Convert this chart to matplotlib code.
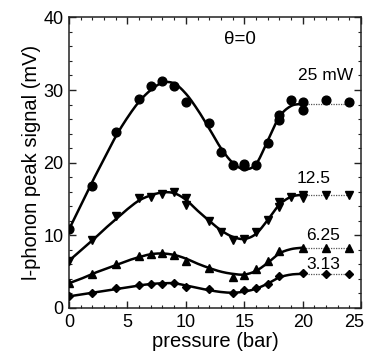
"""
l-phonon peak signal vs pressure at theta=0, for four heater powers.
Markers are the measured points, solid lines the smooth fits.
"""

import numpy as np
import matplotlib
matplotlib.use("Agg")
import matplotlib.pyplot as plt
from matplotlib.ticker import MultipleLocator

plt.rcParams["font.family"] = ["Liberation Sans", "DejaVu Sans"]

# measured points (bar, mV)
P_25 = [0, 2, 4, 6, 7, 8, 9, 10, 12, 13, 14, 15, 15, 16, 17, 18, 18, 19, 20, 20, 22, 24]
S_25 = [10.9, 16.8, 24.2, 28.8, 30.6, 31.3, 30.6, 28.3, 25.5, 21.5, 19.7, 19.8, 19.5,
        19.7, 22.7, 25.9, 26.6, 28.6, 28.3, 27.2, 28.6, 28.3]

P_125 = [0, 2, 4, 6, 7, 8, 9, 10, 10, 12, 13, 14, 15, 16, 17, 18, 18, 19, 20, 20, 22, 24]
S_125 = [6.5, 9.3, 12.6, 15.1, 15.3, 15.7, 15.9, 15.1, 14.2, 12.0, 10.4, 9.4, 9.5,
         10.4, 12.1, 14.6, 13.9, 15.3, 15.6, 15.1, 15.6, 15.6]

P_625 = [0, 2, 4, 6, 7, 8, 9, 10, 12, 14, 15, 16, 17, 18, 20, 22, 24]
S_625 = [3.5, 4.7, 6.0, 7.15, 7.4, 7.6, 7.3, 6.45, 5.45, 4.3, 4.6, 5.3, 6.4, 7.9, 8.3, 8.3, 8.3]

P_313 = [0, 2, 4, 6, 7, 8, 9, 10, 12, 14, 15, 16, 17, 18, 20, 22, 24]
S_313 = [1.65, 2.1, 2.7, 3.15, 3.25, 3.3, 3.5, 2.95, 2.55, 2.1, 2.5, 2.8, 3.3, 4.4, 4.75, 4.65, 4.65]

# fitted curves at whole-bar knots 0..20
FIT_P = list(range(0, 21))
FIT_25 = [10.8, 14.1, 17.4, 20.5, 23.6, 26.2, 28.4, 30.0, 31.0, 30.9, 29.5, 27.3, 24.7,
          22.0, 20.0, 19.1, 19.8, 23.0, 26.3, 27.8, 28.1]
FIT_125 = [6.5, 7.9, 9.3, 10.8, 12.2, 13.6, 14.8, 15.5, 15.9, 15.8, 14.9, 13.4, 12.0,
           10.7, 9.8, 9.5, 10.2, 12.1, 14.2, 15.3, 15.6]
FIT_625 = [3.4, 4.0, 4.7, 5.3, 5.9, 6.5, 7.0, 7.4, 7.5, 7.3, 6.8, 6.1, 5.5, 5.0, 4.7,
           4.6, 5.1, 6.2, 7.5, 8.1, 8.3]
FIT_313 = [1.6, 1.85, 2.1, 2.35, 2.6, 2.85, 3.1, 3.3, 3.4, 3.4, 3.1, 2.75, 2.45, 2.2,
           2.1, 2.25, 2.65, 3.35, 4.2, 4.6, 4.7]

PLATEAU_P = [20, 24]   # dotted continuation of each fit

LABELS = ["25 mW", "12.5", "6.25", "3.13"]
X_TICKS = [0, 5, 10, 15, 20, 25]


def _smooth(xk, yk, n=400):
    """Cubic Hermite through the knots (Catmull-Rom slopes)."""
    xk = np.asarray(xk, float)
    yk = np.asarray(yk, float)
    m = np.gradient(yk, xk)
    xs = np.linspace(xk[0], xk[-1], n)
    i = np.clip(np.searchsorted(xk, xs) - 1, 0, len(xk) - 2)
    h = xk[i + 1] - xk[i]
    t = (xs - xk[i]) / h
    h00 = 2 * t**3 - 3 * t**2 + 1
    h10 = t**3 - 2 * t**2 + t
    h01 = -2 * t**3 + 3 * t**2
    h11 = t**3 - t**2
    ys = h00 * yk[i] + h10 * h * m[i] + h01 * yk[i + 1] + h11 * h * m[i + 1]
    return xs, ys


fig = plt.figure(figsize=(3.67, 3.54), dpi=100)
ax = fig.add_axes([0.188, 0.130, 0.796, 0.821])

series = [
    (P_25, S_25, FIT_25, "o", 6.3),
    (P_125, S_125, FIT_125, "v", 6.3),
    (P_625, S_625, FIT_625, "^", 6.3),
    (P_313, S_313, FIT_313, "D", 4.4),
]

for p, s, fit, mk, ms in series:
    xs, ys = _smooth(FIT_P, fit)
    ax.plot(xs, ys, color="black", lw=1.8, zorder=2)
    ax.plot(PLATEAU_P, [fit[-1]] * 2, color="#555555", lw=0.9, ls=(0, (1, 1)), zorder=1)
    ax.plot(p, s, ls="none", marker=mk, ms=ms, color="black", mec="black", zorder=3)

ax.text(24.3, 31.0, LABELS[0], ha="right", va="bottom", fontsize=12.5)
ax.text(22.35, 16.8, LABELS[1], ha="right", va="bottom", fontsize=12.5)
ax.text(23.2, 9.0, LABELS[2], ha="right", va="bottom", fontsize=12.5)
ax.text(23.2, 4.95, LABELS[3], ha="right", va="bottom", fontsize=12.5)
ax.text(14.6, 37.0, "θ=0", ha="center", va="center", fontsize=13.5)

ax.set_xlim(0, 25)
ax.set_ylim(0, 40)
ax.set_xticks(X_TICKS, [str(v) for v in X_TICKS[:-1]] + [""])
ax.xaxis.set_minor_locator(MultipleLocator(1))
ax.yaxis.set_major_locator(MultipleLocator(10))
ax.yaxis.set_minor_locator(MultipleLocator(2))
ax.tick_params(which="both", direction="in", top=True, right=True, colors="#222222",
               labelcolor="black", labelsize=13)
ax.tick_params(which="major", length=5, width=1.0, pad=4)
ax.tick_params(which="minor", length=2.5, width=0.8)
for sp in ax.spines.values():
    sp.set_color("#222222")
    sp.set_linewidth(1.1)

# last x label sits on the figure edge; draw it nudged inside
ax.annotate(str(X_TICKS[-1]), xy=(X_TICKS[-1], 0), xycoords="data",
            xytext=(-5, -4), textcoords="offset points",
            ha="center", va="top", fontsize=13, annotation_clip=False)

ax.set_xlabel("pressure (bar)", fontsize=14.5, labelpad=1)
ax.set_ylabel("l-phonon peak signal (mV)", fontsize=14.5, labelpad=2)

fig.savefig("out.png", dpi=100)
plt.close(fig)
